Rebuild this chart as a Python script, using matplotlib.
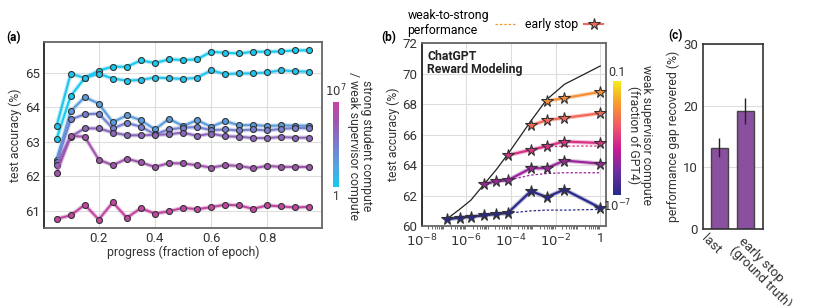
import numpy as np
import matplotlib
matplotlib.use("Agg")
import matplotlib.pyplot as plt
import matplotlib.transforms as mtransforms
from matplotlib.colors import LinearSegmentedColormap, LogNorm, Normalize
from matplotlib.lines import Line2D
from matplotlib.ticker import FixedLocator, LogLocator, NullFormatter, FuncFormatter

plt.rcParams['font.family'] = ['Roboto', 'DejaVu Sans']
plt.rcParams['font.size'] = 8

# ---------------- data: panel (a) ----------------
progress = [0.05, 0.10, 0.15, 0.20, 0.25, 0.30, 0.35, 0.40, 0.45, 0.50,
            0.55, 0.60, 0.65, 0.70, 0.75, 0.80, 0.85, 0.90, 0.95]
ratio_log10 = [0.0, 0.3, 2.0, 3.3, 4.5, 5.5, 6.8]
acc_a = [
    [63.09, 64.33, 64.86, 65.07, 65.19, 65.18, 65.37, 65.29, 65.40, 65.38,
     65.40, 65.62, 65.59, 65.57, 65.62, 65.62, 65.63, 65.66, 65.66],
    [63.46, 64.98, 64.86, 64.98, 64.84, 64.78, 64.80, 64.87, 64.85, 64.83,
     64.86, 65.08, 64.97, 64.99, 64.99, 65.02, 65.08, 65.05, 65.04],
    [62.48, 63.89, 64.30, 64.11, 63.57, 63.77, 63.63, 63.36, 63.67, 63.46,
     63.63, 63.44, 63.60, 63.48, 63.49, 63.46, 63.48, 63.47, 63.47],
    [62.40, 63.65, 63.80, 63.82, 63.39, 63.55, 63.44, 63.22, 63.36, 63.41,
     63.43, 63.34, 63.36, 63.33, 63.36, 63.33, 63.38, 63.40, 63.40],
    [62.33, 63.15, 63.39, 63.39, 63.27, 63.19, 63.19, 63.20, 63.22, 63.27,
     63.17, 63.24, 63.16, 63.15, 63.11, 63.11, 63.14, 63.12, 63.12],
    [62.09, 63.17, 63.15, 62.48, 62.32, 62.51, 62.40, 62.27, 62.38, 62.37,
     62.32, 62.25, 62.32, 62.30, 62.23, 62.30, 62.27, 62.27, 62.27],
    [60.76, 60.86, 61.17, 60.74, 61.24, 60.79, 61.07, 60.91, 60.98, 61.08,
     61.04, 61.10, 61.17, 61.15, 61.05, 61.15, 61.12, 61.09, 61.11],
]

# ---------------- data: panel (b) ----------------
gpt4_frac = [1.3e-7, 5.0e-7, 1.6e-6, 6.3e-6, 2.2e-5, 7.1e-5, 7.9e-4, 4.0e-3, 2.5e-2, 1.0]
ceiling_acc = [60.45, 61.1, 61.7, 62.75, 63.7, 64.7, 66.9, 68.3, 69.3, 70.5]
start_idx = [0, 3, 5, 6, 7]
early_stop = [
    [60.45, 60.55, 60.62, 60.70, 60.80, 60.85, 62.30, 61.90, 62.40, 61.20],
    [62.75, 62.95, 63.00, 63.80, 63.80, 64.30, 64.10],
    [64.65, 65.00, 65.25, 65.55, 65.45],
    [66.60, 66.95, 67.10, 67.40],
    [68.20, 68.40, 68.80],
]
w2s_final = [
    [60.45, 60.55, 60.62, 60.70, 60.80, 60.85, 61.00, 61.05, 61.05, 61.10],
    [62.75, 62.95, 63.00, 63.35, 63.45, 63.50, 63.50],
    [64.65, 65.00, 65.20, 65.25, 65.25],
    [66.60, 66.95, 67.10, 67.40],
    [68.20, 68.40, 68.80],
]

# ---------------- data: panel (c) ----------------
pgr_labels = ['last', 'early stop\n(ground truth)']
pgr_values = [13.2, 19.1]
pgr_err = [1.55, 2.1]

cmap_a = LinearSegmentedColormap.from_list(
    'ratio', ['#16cbef', '#55a2e0', '#7a7cce', '#9b58b0', '#c645a0'])
norm_a = Normalize(0, 7)
cmap_b = LinearSegmentedColormap.from_list(
    'weak', ['#262a88', '#6c2fa2', '#c81c94', '#f0586a', '#f79a2c', '#f4ec1e'])
norm_b = LogNorm(1e-7, 0.1)

fig = plt.figure(figsize=(8.3, 3.06), dpi=100)
grid_kw = dict(color='#dddddd', lw=0.8, zorder=0)
txt_c = '#333333'
tick_fs = 9.5
lab_fs = 8.8


def style_spines(ax):
    for s in ['top', 'right', 'bottom']:
        ax.spines[s].set_color('#666666')
        ax.spines[s].set_linewidth(1.3)
    ax.spines['left'].set_color('#222222')
    ax.spines['left'].set_linewidth(1.3)


# ---- (a) ----
ax_a = fig.add_axes([0.053, 0.255, 0.335, 0.608])
for r, ys in zip(ratio_log10, acc_a):
    c = cmap_a(norm_a(r))
    ax_a.plot(progress, ys, color=c, lw=3.2, alpha=0.3, solid_capstyle='round', zorder=2)
    ax_a.plot(progress, ys, color=c, lw=1.5, marker='o', ms=4.3,
              mec='#333333', mew=0.8, zorder=3)
ax_a.set_xticks([0.2, 0.4, 0.6, 0.8])
ax_a.set_yticks([61, 62, 63, 64, 65])
ax_a.grid(True, **grid_kw)
ax_a.tick_params(length=0, labelsize=tick_fs, colors=txt_c, pad=3)
ax_a.set_xlabel('progress (fraction of epoch)', fontsize=lab_fs, labelpad=0, color=txt_c)
ax_a.set_ylabel('test accuracy (%)', fontsize=lab_fs, labelpad=2, color=txt_c)
style_spines(ax_a)

cax_a = fig.add_axes([0.401, 0.389, 0.008, 0.278])
cb_a = fig.colorbar(plt.cm.ScalarMappable(norm=norm_a, cmap=cmap_a), cax=cax_a)
cb_a.set_ticks([])
cb_a.outline.set_visible(False)
cax_a.text(0.5, 1.03, r'$10^7$', transform=cax_a.transAxes, ha='center', va='bottom',
           fontsize=8.5, color=txt_c)
cax_a.text(0.5, -0.03, '1', transform=cax_a.transAxes, ha='center', va='top',
           fontsize=8.5, color=txt_c)
fig.text(0.434, 0.523, 'strong student compute\n/ weak supervisor compute',
         rotation=270, ha='center', va='center', fontsize=lab_fs, color=txt_c,
         linespacing=1.0)

# ---- (b) ----
ax_b = fig.add_axes([0.508, 0.261, 0.222, 0.598])
ax_b.set_xscale('log')
ax_b.plot(gpt4_frac, ceiling_acc, color='#222222', lw=0.9, zorder=4)
for k, es, wf in zip(start_idx, early_stop, w2s_final):
    xs = gpt4_frac[k:]
    c = cmap_b(norm_b(gpt4_frac[k]))
    ax_b.plot(xs, wf, color=c, lw=0.9, ls=(0, (2, 1.5)), zorder=3)
    ax_b.plot(xs, es, color=c, lw=3.2, alpha=0.3, zorder=3)
    ax_b.plot(xs, es, color=c, lw=1.6, marker='*', ms=8.5,
              mec='#333333', mew=0.8, zorder=5)
ax_b.set_xlim(1e-8, 1.8)
ax_b.set_ylim(60, 72)
ax_b.set_yticks([60, 62, 64, 66, 68, 70, 72])
ax_b.xaxis.set_major_locator(FixedLocator([1e-8, 1e-6, 1e-4, 1e-2, 1]))
ax_b.xaxis.set_minor_locator(LogLocator(base=10, subs=np.arange(2, 10), numticks=20))
ax_b.xaxis.set_minor_formatter(NullFormatter())


def fmt_b(v, pos):
    e = int(round(np.log10(v)))
    return '1' if e == 0 else r'$10^{%d}$' % e


ax_b.xaxis.set_major_formatter(FuncFormatter(fmt_b))
ax_b.grid(True, which='major', **grid_kw)
ax_b.tick_params(which='major', length=0, labelsize=tick_fs, colors=txt_c, pad=3)
ax_b.tick_params(axis='x', which='major', pad=4.5)
ax_b.tick_params(which='minor', length=2, width=0.6, color='#555555')
ax_b.set_ylabel('test accuracy (%)', fontsize=lab_fs, labelpad=2, color=txt_c)
ax_b.text(0.03, 0.965, 'ChatGPT\nReward Modeling', transform=ax_b.transAxes,
          ha='left', va='top', fontsize=8.8, fontweight='bold', color='#222222',
          linespacing=1.0)
style_spines(ax_b)

handles = [Line2D([], [], color=cmap_b(0.8), lw=0.9, ls=(0, (2, 1.5))),
           Line2D([], [], color=cmap_b(0.65), lw=1.6, marker='*', ms=8.5,
                  mec='#333333', mew=0.8)]
ax_b.legend(handles, ['weak-to-strong\nperformance', 'early stop'], loc='lower right',
            bbox_to_anchor=(1.02, 1.0), ncol=2, frameon=False, markerfirst=False,
            fontsize=lab_fs, handlelength=1.6, columnspacing=0.8, handletextpad=0.5,
            borderaxespad=0.1)

cax_b = fig.add_axes([0.739, 0.363, 0.0096, 0.373])
cb_b = fig.colorbar(plt.cm.ScalarMappable(norm=norm_b, cmap=cmap_b), cax=cax_b)
cb_b.set_ticks([])
cb_b.minorticks_off()
cb_b.outline.set_visible(False)
cax_b.text(0.5, 1.02, '0.1', transform=cax_b.transAxes, ha='center', va='bottom',
           fontsize=9, color=txt_c)
cax_b.text(0.5, -0.02, r'$10^{-7}$', transform=cax_b.transAxes, ha='center', va='top',
           fontsize=8.5, color=txt_c)
fig.text(0.771, 0.56, 'weak supervisor compute\n(fraction of GPT4)',
         rotation=270, ha='center', va='center', fontsize=lab_fs, color=txt_c,
         linespacing=1.0)

# ---- (c) ----
ax_c = fig.add_axes([0.847, 0.252, 0.072, 0.604])
xpos = np.arange(len(pgr_values))
ax_c.bar(xpos, pgr_values, width=0.66, color='#8a4f9f', edgecolor='#444444', lw=1,
         zorder=2)
ax_c.errorbar(xpos, pgr_values, yerr=pgr_err, fmt='none', ecolor='#222222', elinewidth=1,
              capsize=0, zorder=3)
ax_c.set_xlim(-0.63, 1.67)
ax_c.set_ylim(0, 30)
ax_c.set_yticks([0, 10, 20, 30])
ax_c.yaxis.grid(True, **grid_kw)
ax_c.set_xticks(xpos)
ax_c.set_xticklabels(pgr_labels, rotation=-45, ha='left', va='top',
                     rotation_mode='anchor', fontsize=8.5, color=txt_c,
                     linespacing=0.95)
ax_c.tick_params(length=0, labelsize=tick_fs, colors=txt_c)
ax_c.tick_params(axis='x', pad=4)
# nudge the short label left so it clears the two-line one, as in the reference
shift = mtransforms.ScaledTranslation(-8 / 72, 2 / 72, fig.dpi_scale_trans)
lbl_last = ax_c.get_xticklabels()[0]
lbl_last.set_transform(lbl_last.get_transform() + shift)
ax_c.set_ylabel('performance gap recovered (%)', fontsize=lab_fs, labelpad=2, color=txt_c)
for s in ax_c.spines.values():
    s.set_color('#333333')
    s.set_linewidth(1.2)

# panel letters
fig.text(0.008, 0.878, '(a)', fontsize=8.5, fontweight='bold', ha='left', va='center')
fig.text(0.459, 0.876, '(b)', fontsize=8.5, fontweight='bold', ha='left', va='center')
fig.text(0.805, 0.885, '(c)', fontsize=8.5, fontweight='bold', ha='left', va='center')

fig.savefig('out.png', dpi=100)
